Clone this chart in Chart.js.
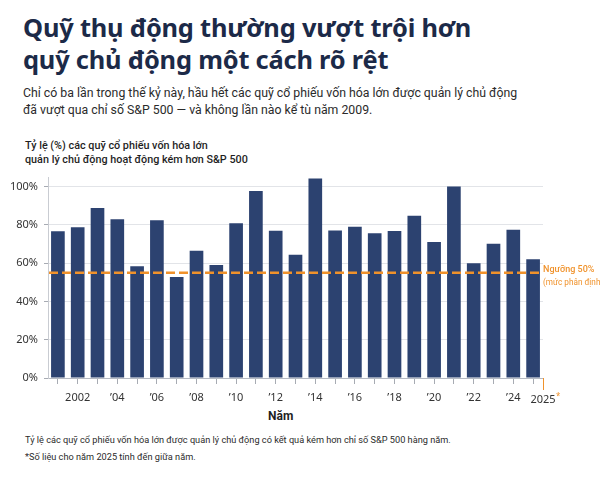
<!DOCTYPE html>
<html lang="vi">
<head>
<meta charset="utf-8">
<script src="https://cdn.jsdelivr.net/npm/chart.js@4/dist/chart.umd.min.js"></script>
<style>
  body { margin: 0; background: #fff; }
  #wrap { position: relative; width: 600px; height: 480px; overflow: hidden; font-family: Roboto, sans-serif; }
  #wrap canvas { position: absolute; left: 0; top: 0; }
  .txt { position: absolute; left: 23px; white-space: nowrap; }
  #title { top: 11px; font-family: "Noto Sans", sans-serif; font-size: 25.4px; line-height: 32px; font-weight: 700; color: #1c2a48; letter-spacing: -0.2px; }
  #subtitle { top: 85px; font-size: 12.3px; line-height: 16.5px; color: #2b2b2b; }
  #ytitle { top: 139px; left: 25px; font-size: 10.8px; line-height: 14px; font-weight: 500; color: #1f1f1f; }
  #xtitle { top: 409px; left: 268px; font-size: 12px; line-height: 14px; font-weight: 700; color: #1f1f1f; }
  #note1 { top: 434px; left: 25px; font-size: 9.2px; line-height: 12px; color: #2b2b2b; }
  #note2 { top: 450.5px; left: 25px; font-size: 9.2px; line-height: 12px; color: #2b2b2b; }
</style>
</head>
<body>
<div id="wrap">
  <div class="txt" id="title">Quỹ thụ động thường vượt trội hơn<br>quỹ chủ động một cách rõ rệt</div>
  <div class="txt" id="subtitle">Chỉ có ba lần trong thế kỷ này, hầu hết các quỹ cổ phiếu vốn hóa lớn được quản lý chủ động<br>đã vượt qua chỉ số S&amp;P 500 — và không lần nào kể tù năm 2009.</div>
  <div class="txt" id="ytitle">Tỷ lệ (%) các quỹ cổ phiếu vốn hóa lớn<br>quản lý chủ động hoạt động kém hơn S&amp;P 500</div>
  <div class="txt" id="xtitle">Năm</div>
  <div class="txt" id="note1">Tỷ lệ các quỹ cổ phiếu vốn hóa lớn được quản lý chủ động có kết quả kém hơn chỉ số S&amp;P 500 hàng năm.</div>
  <div class="txt" id="note2">*Số liệu cho năm 2025 tính đến giữa năm.</div>
  <canvas id="chart" width="600" height="480"></canvas>
</div>
<script>
// years shown on the x axis
const years = [2001, 2002, 2003, 2004, 2005, 2006, 2007, 2008, 2009, 2010, 2011, 2012, 2013,
  2014, 2015, 2016, 2017, 2018, 2019, 2020, 2021, 2022, 2023, 2024, 2025];
// % of active large-cap funds underperforming the S&P 500
const underperformPct = [76.6, 78.7, 88.8, 82.9, 58.4, 82.4, 52.8, 66.5, 59.0, 80.8, 97.7, 76.9, 64.4,
  104.2, 77.1, 79.0, 75.6, 76.8, 84.8, 71.0, 100, 60.0, 70.1, 77.5, 62.0];
const yTicks = [0, 20, 40, 60, 80, 100];
const thresholdValue = 55;
const thresholdLabel = ["Ngưỡng 50%", "(mức phân định)"];
const lastYearLabel = "2025";

const orange = "#f0922b";
const navy = "#2c4270";

Chart.defaults.font.family = "'Noto Sans', sans-serif";

const thresholdPlugin = {
  id: "threshold",
  afterDatasetsDraw(chart) {
    const { ctx, chartArea, scales } = chart;
    const y = scales.y.getPixelForValue(thresholdValue);
    ctx.save();
    ctx.strokeStyle = orange;
    ctx.lineWidth = 2.5;
    ctx.setLineDash([9, 4]);
    ctx.beginPath();
    ctx.moveTo(chartArea.left + 1, y);
    ctx.lineTo(chartArea.right - 4, y);
    ctx.stroke();
    ctx.setLineDash([]);
    ctx.fillStyle = orange;
    ctx.textAlign = "left";
    ctx.textBaseline = "middle";
    ctx.font = "500 9px Roboto, sans-serif";
    ctx.fillText(thresholdLabel[0], chartArea.right, y - 3);
    ctx.font = "8.2px Roboto, sans-serif";
    ctx.fillText(thresholdLabel[1], chartArea.right, y + 10);
    ctx.restore();
  },
  afterDraw(chart) {
    // 2025* marker at the end of the x axis
    const { ctx, chartArea } = chart;
    ctx.save();
    ctx.strokeStyle = orange;
    ctx.lineWidth = 1;
    ctx.beginPath();
    ctx.moveTo(chartArea.right + 0.5, chartArea.bottom);
    ctx.lineTo(chartArea.right + 0.5, chartArea.bottom + 12);
    ctx.stroke();
    ctx.font = "11px 'Noto Sans', sans-serif";
    ctx.textBaseline = "middle";
    ctx.textAlign = "center";
    ctx.fillStyle = "#333";
    const w = ctx.measureText(lastYearLabel).width;
    ctx.fillText(lastYearLabel, chartArea.right, chartArea.bottom + 22);
    ctx.fillStyle = orange;
    ctx.font = "8px 'Noto Sans', sans-serif";
    ctx.textAlign = "left";
    ctx.fillText("*", chartArea.right + w / 2 + 0.5, chartArea.bottom + 19);
    ctx.restore();
  }
};

new Chart(document.getElementById("chart"), {
  type: "bar",
  data: {
    labels: years,
    datasets: [{
      data: underperformPct,
      backgroundColor: navy,
      borderWidth: 0,
      barPercentage: 0.69,
      categoryPercentage: 1
    }]
  },
  options: {
    responsive: false,
    animation: false,
    layout: { padding: { left: 0, right: 57, top: 177, bottom: 72 } },
    plugins: { legend: { display: false }, tooltip: { enabled: false } },
    scales: {
      x: {
        afterFit: (scale) => { scale.height = 30; },
        border: { color: "#b5b9c2", width: 1 },
        grid: { offset: false, drawOnChartArea: false, drawTicks: true, tickLength: 6, color: "#a7abb3" },
        ticks: {
          autoSkip: false,
          maxRotation: 0,
          padding: 7,
          color: "#333",
          font: { size: 11 },
          callback: (v, i) => {
            const yr = years[i];
            if (yr === 2025 || yr % 2 !== 0) return "";
            return i === 1 ? String(yr) : "’" + String(yr).slice(2);
          }
        }
      },
      y: {
        min: 0,
        max: 105,
        afterFit: (scale) => { scale.width = 48; },
        afterBuildTicks: (scale) => { scale.ticks = yTicks.map((v) => ({ value: v })); },
        border: { color: "#c9ccd2", width: 1 },
        grid: {
          color: (c) => c.tick && c.tick.value === 0 ? "rgba(0,0,0,0)" : "#e2e4e8",
          borderDash: [4, 3],
          tickBorderDash: [],
          tickColor: "#a7abb3",
          tickLength: 4
        },
        ticks: {
          padding: 6,
          color: "#333",
          font: { size: 11 },
          callback: (v) => v + "%"
        }
      }
    }
  },
  plugins: [thresholdPlugin]
});
</script>
</body>
</html>
